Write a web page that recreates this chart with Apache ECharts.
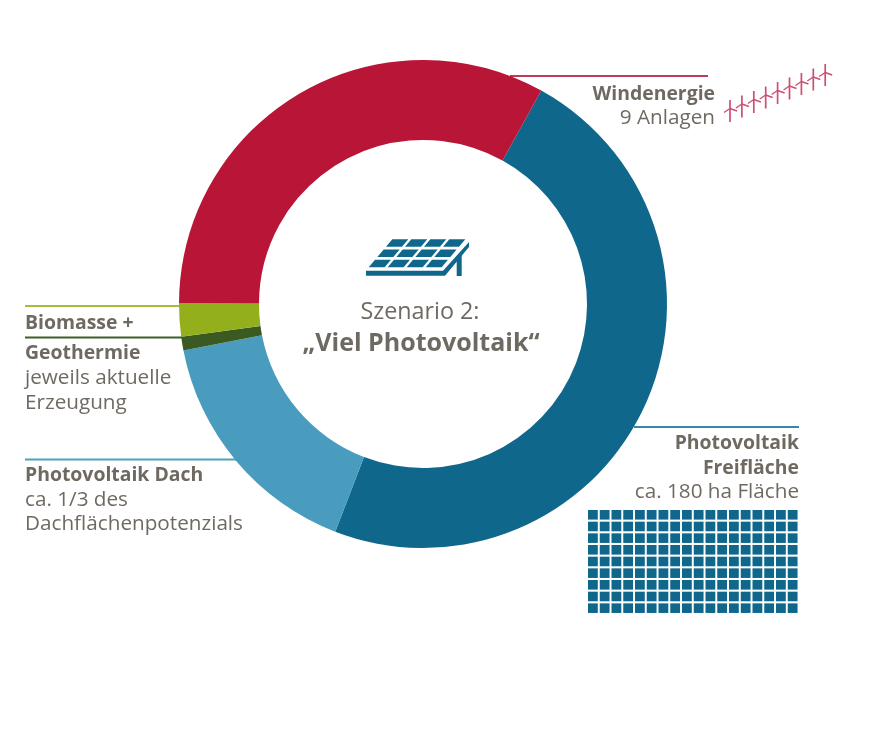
<!DOCTYPE html>
<html><head><meta charset="utf-8">
<style>html,body{margin:0;padding:0;background:#fff}#c{width:896px;height:751px}</style>
<script src="https://cdn.jsdelivr.net/npm/echarts@6/dist/echarts.min.js"></script>
</head><body><div id="c"></div>
<script>
const categories = ['Photovoltaik Freifläche','Photovoltaik Dach','Geothermie','Biomasse','Windenergie'];
const shares = [47.8, 16.1, 0.9, 2.2, 33.0];
const colors = ['#10678c','#499cbd','#3a5a22','#93b01c','#b81537'];
const centerLines = ['Szenario 2:','„Viel Photovoltaik“'];
const windLines = ['Windenergie','9 Anlagen'];
const freiLines = ['Photovoltaik','Freifläche','ca. 180 ha Fläche'];
const bioLines = ['Biomasse +','Geothermie','jeweils aktuelle','Erzeugung'];
const dachLines = ['Photovoltaik Dach','ca. 1/3 des','Dachflächenpotenzials'];
const turbineCount = 9, panelCols = 18, panelRows = 9;

const FONT = '"Open Sans", sans-serif', TXT = '#6f6a61';
const BOLD = 19.4, REG = 20.7;
const g = [];
function text(s, x, base, align, bold, size){
  g.push({type:'text', silent:true, style:{text:s, x, y:base-0.28*size, align, verticalAlign:'middle', font:(bold?'bold ':'')+size+'px '+FONT, fill:TXT}});
}
function line(x1,y1,x2,y2,c,w){
  g.push({type:'line', silent:true, shape:{x1,y1,x2,y2}, style:{stroke:c, lineWidth:w}});
}
function poly(points, c){ g.push({type:'polygon', silent:true, shape:{points}, style:{fill:c}}); }

// leader lines
line(510,76,708,76,'#c13a55',2);
line(25,306,180,306,'#a3bd3c',2);
line(25,337.5,183,337.5,'#3f5f26',2);
line(25,459.5,236,459.5,'#4d9fbf',2);
line(634,427,799,427,'#3a86a8',2);

// labels
text(windLines[0],715,100,'right',true,BOLD);
text(windLines[1],715,124,'right',false,REG);
text(freiLines[0],799,449,'right',true,BOLD);
text(freiLines[1],799,474,'right',true,BOLD);
text(freiLines[2],799,498,'right',false,REG);
text(bioLines[0],25,329,'left',true,BOLD);
text(bioLines[1],25,359,'left',true,BOLD);
text(bioLines[2],25,384,'left',false,REG);
text(bioLines[3],25,409,'left',false,REG);
text(dachLines[0],25,481,'left',true,BOLD);
text(dachLines[1],25,505.5,'left',false,REG);
text(dachLines[2],25,530,'left',false,REG);
text(centerLines[0],420,319,'center',false,23.3);
text(centerLines[1],421,350.5,'center',true,25);

// area squares
for(let r=0;r<panelRows;r++) for(let c=0;c<panelCols;c++){
  g.push({type:'rect', silent:true, shape:{x:588+c*11.75,y:510+r*11.67,width:9.8,height:9.6}, style:{fill:'#10678c'}});
}
// turbines
for(let i=0;i<turbineCount;i++){
  const x=730+i*11.9, y=108.5-i*4.5, col='#cc4f72';
  line(x,y-8.5,x,y+13.5,col,1.7);
  line(x-6,y+4,x,y,col,1.4);
  line(x,y,x+7,y+2.5,col,1.4);
}
// solar icon
const P=(u,v)=>[366+u*76+v*26, 268.5-v*30.5];
const ic='#10678c';
for(let r=0;r<3;r++) for(let c=0;c<4;c++){
  const u0=c/4+0.02,u1=(c+1)/4-0.02,v0=r/3+0.045,v1=(r+1)/3-0.045;
  poly([P(u0,v0),P(u1,v0),P(u1,v1),P(u0,v1)],ic);
}
poly([[366,270.7],[443,270.7],[469,242],[469,247],[445,275.7],[366,275.7]],ic);
poly([[456.7,257],[461.7,251],[461.7,276],[456.7,276]],ic);

const chart = echarts.init(document.getElementById('c'),null,{renderer:'canvas'});
chart.setOption({
  animation:false,
  backgroundColor:'#fff',
  series:[{
    type:'pie', silent:true, center:[423,304], radius:[164,244], startAngle:61, clockwise:true,
    label:{show:false}, labelLine:{show:false},
    data:categories.map((name,i)=>({name,value:shares[i],itemStyle:{color:colors[i]}}))
  }],
  graphic:{elements:g}
});
</script></body></html>
